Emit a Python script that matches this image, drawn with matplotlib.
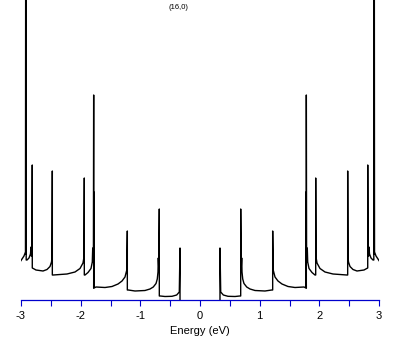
import numpy as np
import matplotlib
matplotlib.use('Agg')
import matplotlib.pyplot as plt
from matplotlib.ticker import MultipleLocator

plt.rcParams['font.family'] = ['Liberation Sans', 'DejaVu Sans']
plt.rcParams['axes.unicode_minus'] = False

# density of states, negative-energy half (eV, arb. units)
energy_left = [-3.005, -2.983, -2.950, -2.925, -2.921, -2.921, -2.913, -2.913,
               -2.899, -2.866, -2.841, -2.832, -2.826, -2.816, -2.811, -2.811,
               -2.794, -2.749, -2.631, -2.564, -2.514, -2.489, -2.480, -2.475,
               -2.475, -2.459, -2.346, -2.229, -2.095, -2.011, -1.961, -1.944,
               -1.939, -1.939, -1.927, -1.877, -1.827, -1.805, -1.798, -1.792,
               -1.786, -1.782, -1.782, -1.777, -1.777, -1.743, -1.592, -1.475,
               -1.374, -1.307, -1.257, -1.227, -1.218, -1.218, -1.202, -1.089,
               -0.922, -0.838, -0.783, -0.737, -0.716, -0.704, -0.699, -0.691,
               -0.682, -0.682, -0.665, -0.587, -0.469, -0.391, -0.347, -0.335,
               -0.335]
dos_left = [3.9, 4.1, 4.4, 4.8, 40, 4.6, 40, 4.0,
            4.0, 4.2, 4.6, 5.3, 4.4, 4.6, 13.5, 3.2,
            3.15, 3.0, 2.9, 3.05, 3.35, 3.8, 4.3, 12.9,
            2.5, 2.5, 2.55, 2.6, 2.8, 3.15, 3.7, 4.3,
            12.2, 2.5, 2.5, 2.75, 3.15, 3.8, 5.2, 3.8,
            4.2, 20.5, 1.2, 10.8, 1.2, 1.3, 1.25, 1.35,
            1.6, 1.9, 2.3, 3.0, 6.9, 1.0, 1.0, 0.9,
            0.95, 1.1, 1.3, 1.65, 2.1, 2.8, 4.2, 3.2,
            9.1, 0.4, 0.4, 0.35, 0.37, 0.5, 0.8, 5.2,
            0.0]

# the spectrum is symmetric about zero
energy_right = -np.array(energy_left)
dos_right = np.array(dos_left)

tick_pos = [-3, -2, -1, 0, 1, 2, 3]
tick_labels = ['-3', '-2', '-1', '0', '1', '2', '3']

fig = plt.figure(figsize=(4.09, 3.45), dpi=100)
ax = fig.add_axes([21 / 409, 1 - 300 / 345, 358 / 409, 300 / 345])

ax.plot(energy_left, dos_left, color='black', lw=1.0, zorder=2)
ax.plot(energy_right, dos_right, color='black', lw=1.0, zorder=2)

ax.set_xlim(-3, 3)
ax.set_ylim(0, 30)

for s in ['top', 'left', 'right']:
    ax.spines[s].set_visible(False)
ax.spines['bottom'].set_color('#0000CC')
ax.spines['bottom'].set_linewidth(0.9)
ax.spines['bottom'].set_zorder(3)

ax.set_yticks([])
ax.set_xticks(tick_pos)
ax.set_xticklabels(tick_labels)
ax.xaxis.set_minor_locator(MultipleLocator(0.5))
ax.tick_params(axis='x', which='both', direction='out', length=4.3, width=0.8,
               color='#0000CC', labelsize=8, pad=3.5)

ax.set_xlabel('Energy (eV)', fontsize=8, labelpad=4)
ax.text(0.44, 0.975, '(16,0)', transform=ax.transAxes, ha='center', va='center',
        fontsize=5.5)

fig.savefig('out.png', dpi=100)
